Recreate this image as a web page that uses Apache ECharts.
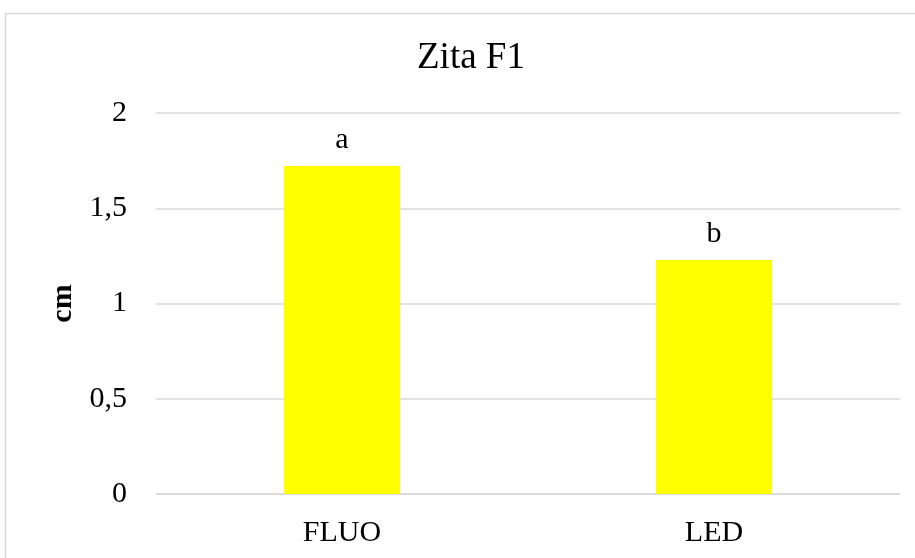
<!DOCTYPE html>
<html>
<head>
<meta charset="utf-8">
<script src="https://cdn.jsdelivr.net/npm/echarts@6/dist/echarts.min.js"></script>
<style>
html,body{margin:0;padding:0;background:#fff;}
#c{width:915px;height:558px;}
</style>
</head>
<body>
<div id="c"></div>
<script>
const categories = ["FLUO", "LED"];
const values = [1.722, 1.228];
const letters = ["a", "b"];
const yTicks = {min: 0, max: 2, interval: 0.5};
const titleText = "Zita F1";
const yName = "cm";

const font = '"Liberation Serif", "Times New Roman", serif';
const chart = echarts.init(document.getElementById('c'), null, {renderer: 'canvas'});
chart.setOption({
  animation: false,
  backgroundColor: '#fff',
  title: {
    text: titleText,
    left: 412,
    top: 35,
    textStyle: {fontFamily: font, fontSize: 37, fontWeight: 'normal', color: '#000'}
  },
  graphic: [{
    type: 'rect',
    shape: {x: 5.5, y: 13.5, width: 1000, height: 1000},
    style: {fill: 'none', stroke: '#d9d9d9', lineWidth: 1.5},
    silent: true
  }],
  grid: {left: 156, right: 15, top: 113, bottom: 64},
  xAxis: {
    type: 'category',
    data: categories,
    axisLine: {show: true, lineStyle: {color: '#d9d9d9', width: 1.5}},
    axisTick: {show: false},
    axisLabel: {fontFamily: font, fontSize: 30, color: '#000', margin: 24}
  },
  yAxis: {
    type: 'value',
    min: yTicks.min, max: yTicks.max, interval: yTicks.interval,
    name: yName,
    nameLocation: 'middle',
    nameGap: 75,
    nameRotate: 90,
    nameTextStyle: {fontFamily: font, fontSize: 30, fontWeight: 'bold', color: '#000'},
    axisLine: {show: false},
    axisTick: {show: false},
    splitLine: {lineStyle: {color: '#d9d9d9', width: 1.5}},
    axisLabel: {
      fontFamily: font, fontSize: 30, color: '#000', margin: 29,
      formatter: v => String(v).replace('.', ',')
    }
  },
  series: [{
    type: 'bar',
    data: values,
    barWidth: 116,
    itemStyle: {color: '#ffff00'},
    label: {
      show: true,
      position: 'top',
      distance: 11,
      formatter: p => letters[p.dataIndex],
      fontFamily: font, fontSize: 30, color: '#000'
    }
  }]
});
</script>
</body>
</html>
